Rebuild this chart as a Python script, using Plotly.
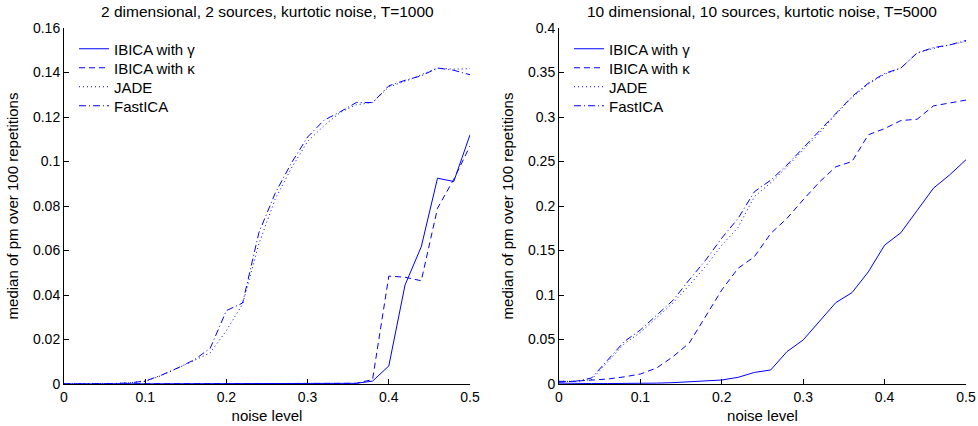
import plotly.graph_objects as go

noise = [round(i * 0.02, 2) for i in range(26)]

# Left panel: 2 dimensional, 2 sources, T=1000
left_gamma = [0, 0, 0, 0, 0, 0, 0, 0, 0, 0, 0, 0, 0, 0, 0, 0, 0, 0, 0.0003, 0.0013, 0.0081, 0.0445, 0.0617, 0.0925, 0.091, 0.112]
left_kappa = [0, 0, 0, 0, 0, 0, 0, 0, 0, 0, 0, 0, 0, 0, 0, 0, 0, 0, 0.0003, 0.002, 0.0485, 0.048, 0.0464, 0.079, 0.092, 0.107]
left_jade = [0, 0, 0, 0.0002, 0.0005, 0.0012, 0.0038, 0.007, 0.0105, 0.014, 0.024, 0.036, 0.063, 0.083, 0.097, 0.109, 0.116, 0.122, 0.1255, 0.1265, 0.1335, 0.136, 0.139, 0.142, 0.1415, 0.1417]
left_fast = [0, 0, 0, 0.0002, 0.0005, 0.0013, 0.004, 0.0072, 0.0108, 0.016, 0.033, 0.0364, 0.068, 0.0857, 0.0993, 0.111, 0.1185, 0.1223, 0.1265, 0.1265, 0.134, 0.1365, 0.1385, 0.142, 0.141, 0.139]

# Right panel: 10 dimensional, 10 sources, T=5000
right_gamma = [0.001, 0.0005, 0.0005, 0.0005, 0.0005, 0.0008, 0.001, 0.0015, 0.0025, 0.0035, 0.0045, 0.0075, 0.013, 0.0157, 0.0363, 0.0495, 0.070, 0.0914, 0.1027, 0.126, 0.156, 0.170, 0.195, 0.220, 0.235, 0.252]
right_kappa = [0.002, 0.003, 0.004, 0.0056, 0.008, 0.0112, 0.018, 0.0307, 0.046, 0.0757, 0.1057, 0.130, 0.143, 0.169, 0.186, 0.207, 0.227, 0.244, 0.250, 0.280, 0.287, 0.296, 0.2975, 0.3125, 0.316, 0.319]
right_jade = [0.003, 0.003, 0.005, 0.025, 0.045, 0.058, 0.074, 0.091, 0.111, 0.132, 0.156, 0.176, 0.2105, 0.226, 0.244, 0.263, 0.282, 0.303, 0.322, 0.337, 0.348, 0.355, 0.372, 0.377, 0.381, 0.385]
right_fast = [0.003, 0.003, 0.0067, 0.027, 0.0476, 0.0607, 0.0776, 0.094, 0.117, 0.139, 0.164, 0.186, 0.216, 0.229, 0.246, 0.265, 0.284, 0.304, 0.323, 0.338, 0.349, 0.355, 0.372, 0.378, 0.381, 0.386]

series_names = ["IBICA with γ", "IBICA with κ", "JADE", "FastICA"]
dashes = ["solid", "6px,4px", "1px,3px", "7px,3px,1px,3px"]

titles = ["2 dimensional, 2 sources, kurtotic noise, T=1000",
          "10 dimensional, 10 sources, kurtotic noise, T=5000"]

left_yticks = [0, 0.02, 0.04, 0.06, 0.08, 0.1, 0.12, 0.14, 0.16]
left_ylabels = ["0", "0.02", "0.04", "0.06", "0.08", "0.1", "0.12", "0.14", "0.16"]
right_yticks = [0, 0.05, 0.1, 0.15, 0.2, 0.25, 0.3, 0.35, 0.4]
right_ylabels = ["0", "0.05", "0.1", "0.15", "0.2", "0.25", "0.3", "0.35", "0.4"]
xticks = [0, 0.1, 0.2, 0.3, 0.4, 0.5]
xlabels = ["0", "0.1", "0.2", "0.3", "0.4", "0.5"]

BLUE = "#0000ff"
FONT = "Liberation Sans, Arial, sans-serif"

W, H = 978, 426
def px_x(p):
    return p / W
def px_y(p):
    return 1 - p / H

fig = go.Figure()

legend_rows_px = [49, 68, 87, 106]
panels = [
    ([left_gamma, left_kappa, left_jade, left_fast], "x", "y", 74, 0),
    ([right_gamma, right_kappa, right_jade, right_fast], "x2", "y2", 569, 4),
]
legend_layouts = {}
for series, xa, ya, lx, off in panels:
    for i, (name, vals, dash) in enumerate(zip(series_names, series, dashes)):
        k = off + i + 1
        lg = "legend" if k == 1 else f"legend{k}"
        fig.add_trace(go.Scatter(
            x=noise, y=vals, mode="lines", name=name, showlegend=True,
            line=dict(color=BLUE, width=1, dash=dash),
            xaxis=xa, yaxis=ya, legend=lg,
        ))
        legend_layouts[lg] = dict(
            x=px_x(lx), y=px_y(legend_rows_px[i]), xanchor="left", yanchor="middle",
            bgcolor="rgba(0,0,0,0)", borderwidth=0, visible=True,
            font=dict(family=FONT, size=15, color="black"), itemwidth=30,
        )

axis_common = dict(
    showline=True, linecolor="black", linewidth=1,
    ticks="inside", ticklen=5, tickcolor="black",
    showgrid=False, zeroline=False, automargin=False,
    tickfont=dict(family=FONT, size=14, color="black"),
)
title_font = dict(family=FONT, size=15, color="black")

fig.update_layout(
    width=W, height=H,
    showlegend=True,
    margin=dict(l=0, r=0, t=0, b=0),
    paper_bgcolor="white", plot_bgcolor="white",
    font=dict(family=FONT, size=14, color="black"),
    xaxis=dict(domain=[px_x(64), px_x(470)], range=[0, 0.5], anchor="y",
               tickvals=xticks, ticktext=xlabels,
               title=dict(text="noise level", standoff=6, font=title_font), **axis_common),
    yaxis=dict(domain=[px_y(384), px_y(28)], range=[0, 0.16], anchor="x",
               tickvals=left_yticks, ticktext=left_ylabels,
               title=dict(text="median of pm over 100 repetitions", standoff=10, font=title_font), **axis_common),
    xaxis2=dict(domain=[px_x(559), px_x(966)], range=[0, 0.5], anchor="y2",
                tickvals=xticks, ticktext=xlabels,
                title=dict(text="noise level", standoff=6, font=title_font), **axis_common),
    yaxis2=dict(domain=[px_y(384), px_y(28)], range=[0, 0.4], anchor="x2",
                tickvals=right_yticks, ticktext=right_ylabels,
                title=dict(text="median of pm over 100 repetitions", standoff=10, font=title_font), **axis_common),
    annotations=[
        dict(text=titles[0], x=(px_x(64) + px_x(470)) / 2, y=px_y(12), xref="paper", yref="paper",
             showarrow=False, xanchor="center", yanchor="middle", font=dict(family=FONT, size=15.5)),
        dict(text=titles[1], x=(px_x(559) + px_x(966)) / 2, y=px_y(12), xref="paper", yref="paper",
             showarrow=False, xanchor="center", yanchor="middle", font=dict(family=FONT, size=15.5)),
    ],
    **legend_layouts,
)

fig.write_html("out.html", config={"displayModeBar": False},
               post_script="document.body.style.margin='0';document.body.style.overflow='hidden';")
